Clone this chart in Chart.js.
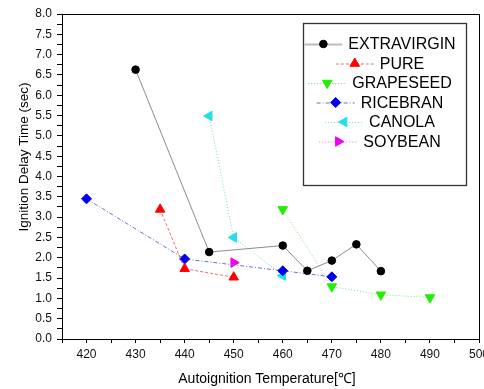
<!DOCTYPE html>
<html>
<head>
<meta charset="utf-8">
<script src="https://cdn.jsdelivr.net/npm/chart.js@4.4.0/dist/chart.umd.min.js"></script>
<style>
  html, body { margin: 0; padding: 0; background: #fff; overflow: hidden; }
  canvas { display: block; }
</style>
</head>
<body>
<canvas id="chart" width="494" height="389"></canvas>
<script>
// values
const extraTemp  = [430, 445, 460, 465, 470, 475, 480];
const extraDelay = [6.63, 2.14, 2.30, 1.68, 1.93, 2.33, 1.67];

const pureTemp  = [435, 440, 450];
const pureDelay = [3.19, 1.73, 1.52];

const grapeTemp  = [460, 470, 480, 490];
const grapeDelay = [3.19, 1.29, 1.09, 1.02];

const riceTemp  = [420, 440, 460, 470];
const riceDelay = [3.45, 1.97, 1.68, 1.53];

const canolaTemp  = [445, 450, 460];
const canolaDelay = [5.49, 2.50, 1.56];

const soyTemp  = [450];
const soyDelay = [1.88];

const seriesNames = ['EXTRAVIRGIN', 'PURE', 'GRAPESEED', 'RICEBRAN', 'CANOLA', 'SOYBEAN'];

const xMajor = [420, 430, 440, 450, 460, 470, 480, 490, 500];
const yMajor = [0.0, 0.5, 1.0, 1.5, 2.0, 2.5, 3.0, 3.5, 4.0, 4.5, 5.0, 5.5, 6.0, 6.5, 7.0, 7.5, 8.0];

const xTitle = 'Autoignition Temperature[℃]';
const yTitle = 'Ignition Delay Time (sec)';

const FONT = '"Liberation Sans", Arial, sans-serif';

function pts(xs, ys) {
    return xs.map((x, i) => ({ x: x, y: ys[i] }));
}

// majors plus the half-way minor ticks
function withMinor(major, step) {
    const out = [major[0] - step / 2];
    major.forEach(v => { out.push(v); out.push(v + step / 2); });
    return out;
}

function series(label, xs, ys, o) {
    return Object.assign({
        label: label,
        data: pts(xs, ys),
        showLine: true,
        borderWidth: 1,
        pointBorderWidth: 1,
        pointHoverRadius: 0,
        clip: false
    }, o);
}

const datasets = [
    series(seriesNames[0], extraTemp, extraDelay, {
        borderColor: '#8c8c8c', pointStyle: 'circle', pointRadius: 3.8,
        pointBackgroundColor: '#000', pointBorderColor: '#000', legendLine: 2, legendLineColor: '#bbbbbb'
    }),
    series(seriesNames[1], pureTemp, pureDelay, {
        borderColor: '#e07070', borderDash: [3, 2], pointStyle: 'triangle', pointRadius: 5.5,
        pointBackgroundColor: '#ff0000', pointBorderColor: '#ff0000'
    }),
    series(seriesNames[2], grapeTemp, grapeDelay, {
        borderColor: '#7ee07e', borderDash: [1, 2], pointStyle: 'triangle', pointRotation: 180, pointRadius: 5.5,
        pointBackgroundColor: '#22ee00', pointBorderColor: '#22ee00'
    }),
    series(seriesNames[3], riceTemp, riceDelay, {
        borderColor: '#7070b8', borderDash: [4, 2, 1, 2], pointStyle: 'rectRot', pointRadius: 5,
        pointBackgroundColor: '#0000ee', pointBorderColor: '#0000ee'
    }),
    series(seriesNames[4], canolaTemp, canolaDelay, {
        borderColor: '#66dddd', borderDash: [1, 2], pointStyle: 'triangle', pointRotation: 270, pointRadius: 5.5,
        pointBackgroundColor: '#22e0e8', pointBorderColor: '#22e0e8'
    }),
    series(seriesNames[5], soyTemp, soyDelay, {
        borderColor: '#e070e0', borderDash: [1, 2], pointStyle: 'triangle', pointRotation: 90, pointRadius: 5.5,
        pointBackgroundColor: '#ee00ee', pointBorderColor: '#ee00ee'
    })
];

const decor = {
    id: 'decor',
    afterDraw(chart) {
        const ctx = chart.ctx;
        const a = chart.chartArea;
        ctx.save();

        // top and right frame
        ctx.strokeStyle = '#000';
        ctx.lineWidth = 1;
        ctx.beginPath();
        ctx.moveTo(Math.round(a.left) + 0.5, Math.round(a.top) + 0.5);
        ctx.lineTo(Math.round(a.right) + 0.5, Math.round(a.top) + 0.5);
        ctx.lineTo(Math.round(a.right) + 0.5, Math.round(a.bottom) + 0.5);
        ctx.stroke();

        // axis titles
        ctx.fillStyle = '#000';
        ctx.textAlign = 'center';
        ctx.textBaseline = 'middle';
        ctx.font = '14px ' + FONT;
        ctx.fillText(xTitle, 267, 379);
        ctx.save();
        ctx.translate(24, 157);
        ctx.rotate(-Math.PI / 2);
        ctx.font = '13.5px ' + FONT;
        ctx.fillText(yTitle, 0, 0);
        ctx.restore();

        // legend box
        const bx = 303, by = 23, bw = 163, bh = 162;
        ctx.fillStyle = '#fff';
        ctx.fillRect(bx, by, bw, bh);
        ctx.strokeStyle = '#333';
        ctx.lineWidth = 1.3;
        ctx.strokeRect(bx + 0.5, by + 0.5, bw, bh);

        ctx.font = '16px ' + FONT;
        chart.data.datasets.forEach((ds, i) => {
            const y = 44 + i * 19.5;
            const tw = ctx.measureText(ds.label).width;
            const tx = 402 - tw / 2;
            const x1 = tx - 6, x0 = x1 - 38;
            ctx.save();
            ctx.strokeStyle = ds.legendLineColor || ds.borderColor;
            ctx.lineWidth = ds.legendLine || 1;
            ctx.setLineDash(ds.borderDash || []);
            ctx.beginPath();
            ctx.moveTo(x0, y + 0.5);
            ctx.lineTo(x1, y + 0.5);
            ctx.stroke();
            ctx.restore();
            ctx.fillStyle = ds.pointBackgroundColor;
            ctx.strokeStyle = ds.pointBorderColor;
            ctx.lineWidth = 1;
            Chart.helpers.drawPoint(ctx, {
                pointStyle: ds.pointStyle,
                rotation: ds.pointRotation || 0,
                radius: ds.pointRadius,
                borderWidth: 1
            }, (x0 + x1) / 2, y);
            ctx.fillStyle = '#000';
            ctx.textAlign = 'left';
            ctx.fillText(ds.label, tx, y + 1);
        });
        ctx.restore();
    }
};

new Chart(document.getElementById('chart'), {
    type: 'scatter',
    data: { datasets: datasets },
    plugins: [decor],
    options: {
        responsive: false,
        animation: false,
        events: [],
        layout: { padding: { top: 14, right: 15, bottom: 0, left: 0 } },
        plugins: { legend: { display: false }, tooltip: { enabled: false } },
        scales: {
            x: {
                type: 'linear',
                min: 415,
                max: 500,
                afterBuildTicks: s => { s.ticks = withMinor(xMajor, 10).filter(v => v >= 415 && v <= 500).map(v => ({ value: v })); },
                afterFit: s => { s.height = 50; s.paddingLeft = 0; s.paddingRight = 0; },
                grid: { drawOnChartArea: false, tickLength: 4, color: '#000' },
                border: { color: '#000', width: 1 },
                ticks: {
                    autoSkip: false,
                    maxRotation: 0,
                    padding: 4,
                    color: '#111',
                    font: { family: FONT, size: 12 },
                    callback: v => (xMajor.includes(v) ? String(v) : '')
                }
            },
            y: {
                type: 'linear',
                min: 0,
                max: 8,
                afterBuildTicks: s => { s.ticks = withMinor(yMajor, 0.5).filter(v => v >= 0 && v <= 8).map(v => ({ value: v })); },
                afterFit: s => { s.width = 62; s.paddingTop = 0; s.paddingBottom = 0; },
                grid: { drawOnChartArea: false, tickLength: 5, color: '#000' },
                border: { color: '#000', width: 1 },
                ticks: {
                    autoSkip: false,
                    padding: 5,
                    color: '#111',
                    font: { family: FONT, size: 12 },
                    callback: v => (yMajor.includes(v) ? v.toFixed(1) : '')
                }
            }
        }
    }
});
</script>
</body>
</html>
